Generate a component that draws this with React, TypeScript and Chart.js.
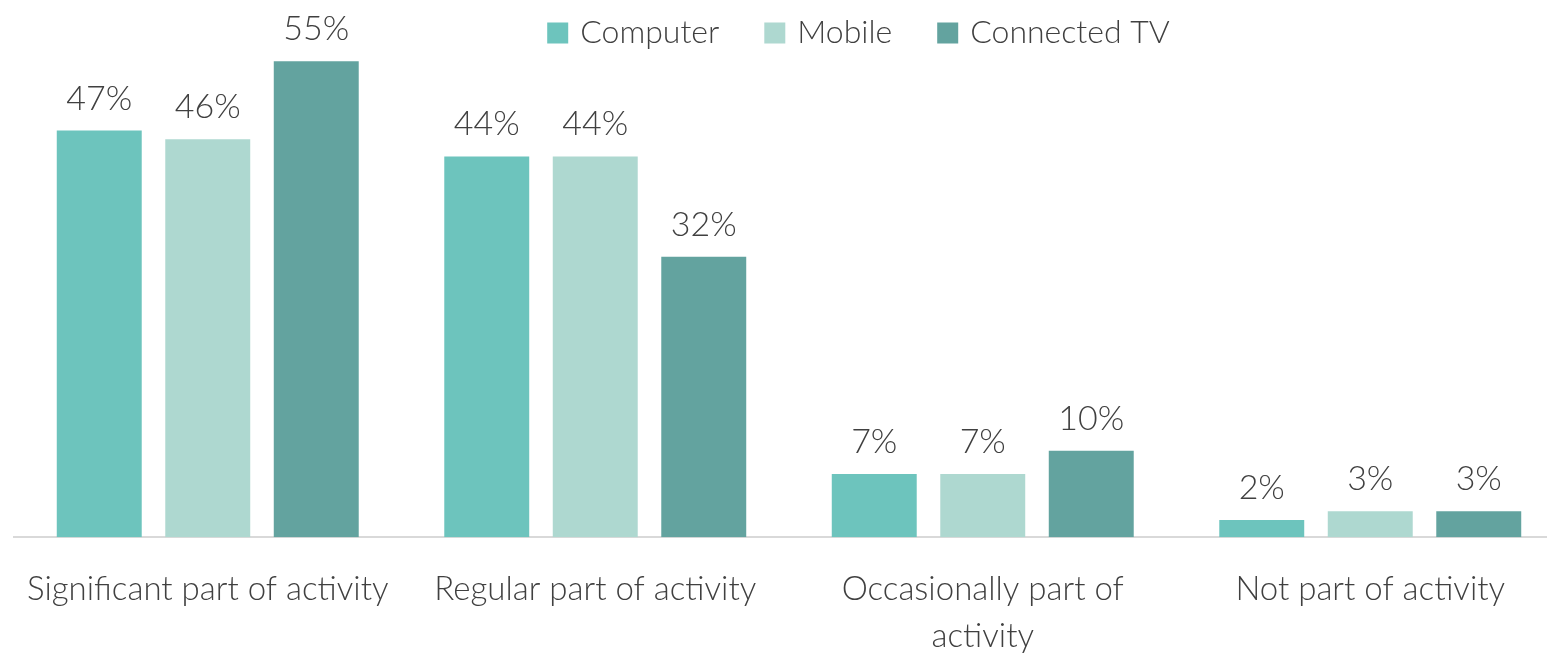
import React, { useEffect, useRef } from "react";
import { Chart, registerables } from "chart.js";

Chart.register(...registerables);

const categories: (string | string[])[] = [
  "Significant part of activity",
  "Regular part of activity",
  ["Occasionally part of", "activity"],
  "Not part of activity",
];
const seriesNames = ["Computer", "Mobile", "Connected TV"];
const computerValues = [47, 44, 7.3, 2];
const mobileValues = [46, 44, 7.3, 3];
const connectedTvValues = [55, 32.4, 10, 3];
const seriesColors = ["#6DC4BD", "#AED8D0", "#63A39F"];

const FONT_FAMILY = "Lato, 'Noto Sans', sans-serif";
const TEXT_COLOR = "#404040";
const FONT_SIZE = 33;
const LEGEND_FONT_SIZE = 32;
const VALUE_FONT_SIZE = 34;

const valueLabelPlugin = {
  id: "valueLabels",
  afterDatasetsDraw(chart: any) {
    const ctx = chart.ctx;
    ctx.save();
    ctx.font = `300 ${VALUE_FONT_SIZE}px ${FONT_FAMILY}`;
    ctx.fillStyle = TEXT_COLOR;
    ctx.textAlign = "center";
    ctx.textBaseline = "alphabetic";
    chart.data.datasets.forEach((ds: any, i: number) => {
      const meta = chart.getDatasetMeta(i);
      meta.data.forEach((el: any, j: number) => {
        const v = ds.data[j] as number;
        ctx.fillText(`${Math.round(v)}%`, el.x, el.y - 21);
      });
    });
    ctx.restore();
  },
};

const customLegendPlugin = {
  id: "customLegend",
  afterDraw(chart: any) {
    const ctx = chart.ctx;
    ctx.save();
    ctx.font = `300 ${LEGEND_FONT_SIZE}px ${FONT_FAMILY}`;
    ctx.textBaseline = "middle";
    ctx.textAlign = "left";
    const box = 21;
    const gapText = 12;
    const gapItem = 45;
    const items = chart.data.datasets.map((ds: any) => ({
      label: ds.label as string,
      color: ds.backgroundColor as string,
      w: ctx.measureText(ds.label).width,
    }));
    const total =
      items.reduce((s: number, it: any) => s + box + gapText + it.w, 0) +
      gapItem * (items.length - 1);
    const centerX = 858.5;
    let x = centerX - total / 2;
    const cy = 33;
    items.forEach((it: any) => {
      ctx.fillStyle = it.color;
      ctx.fillRect(x, cy - box / 2, box, box);
      x += box + gapText;
      ctx.fillStyle = TEXT_COLOR;
      ctx.fillText(it.label, x, cy);
      x += it.w + gapItem;
    });
    ctx.restore();
  },
};

export default function App() {
  const canvasRef = useRef<HTMLCanvasElement | null>(null);

  useEffect(() => {
    if (!canvasRef.current) return;
    const valueSets = [computerValues, mobileValues, connectedTvValues];
    const chart = new Chart(canvasRef.current, {
      type: "bar",
      data: {
        labels: categories,
        datasets: seriesNames.map((name, i) => ({
          label: name,
          data: valueSets[i],
          backgroundColor: seriesColors[i],
          borderWidth: 0,
          categoryPercentage: 0.84,
          barPercentage: 0.783,
        })),
      },
      options: {
        responsive: false,
        animation: false,
        devicePixelRatio: 1,
        layout: { padding: { top: 18, left: 14, right: 1, bottom: 0 } },
        plugins: {
          legend: { display: false },
          tooltip: { enabled: false },
        },
        scales: {
          x: {
            grid: {
              display: true,
              drawOnChartArea: false,
              drawTicks: true,
              tickLength: 29,
              color: "rgba(0,0,0,0)",
            },
            border: { display: true, color: "#D9D9D9", width: 2 },
            ticks: {
              color: TEXT_COLOR,
              padding: 0,
              maxRotation: 0,
              autoSkip: false,
              font: { family: FONT_FAMILY, size: FONT_SIZE, weight: "300", lineHeight: 1.42 },
            },
          },
          y: {
            display: false,
            min: 0,
            max: 60,
          },
        },
      },
      plugins: [valueLabelPlugin, customLegendPlugin],
    });
    return () => chart.destroy();
  }, []);

  return (
    <div
      style={{
        position: "fixed",
        left: 0,
        top: 0,
        width: "100vw",
        height: "100vh",
        overflow: "hidden",
        background: "#ffffff",
      }}
    >
      <canvas ref={canvasRef} width={1565} height={660} style={{ display: "block" }} />
    </div>
  );
}
